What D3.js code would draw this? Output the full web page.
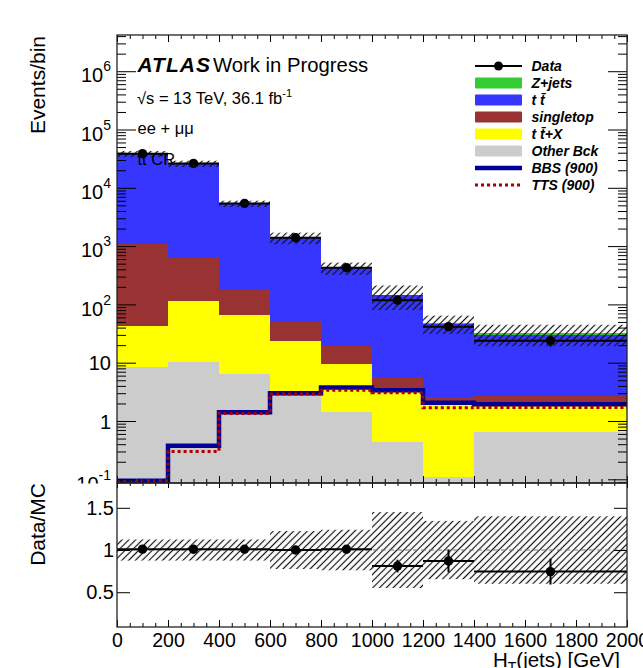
<!DOCTYPE html>
<html>
<head>
<meta charset="utf-8">
<script src="https://cdn.jsdelivr.net/npm/d3@7"></script>
<style>
  body { margin: 0; background: #fff; }
  svg { display: block; font-family: "Liberation Sans", Arial, Helvetica, sans-serif; }
  .axis path.domain { display: none; }
  .axis line { stroke: #000; stroke-width: 1; }
</style>
</head>
<body>
<svg id="chart" width="643" height="668"></svg>
<script>
// H_T(jets) bins [GeV]
var binEdges = [0, 200, 400, 600, 800, 1000, 1200, 1400, 2000];

// events / bin
var dataValues = [38500, 26200, 5400, 1390, 425, 118, 41.5, 23.8];
var dataErrors = [196, 162, 73, 37, 21, 11, 6.4, 4.9];
var zJets      = [50, 40, 12, 5, 2.5, 2.0, 1.2, 2.2];
var ttbar      = [36980, 25270, 5160, 1335, 399, 138, 43.9, 27.1];
var singleTop  = [1027, 524, 110, 26.6, 10.0, 2.3, 0.57, 0.8];
var ttX        = [34.7, 105.7, 60.0, 20.7, 8.06, 2.96, 1.92, 1.24];
var otherBck   = [8.3, 10.3, 6.4, 3.1, 1.44, 0.44, 0.111, 0.64];
var bbs900     = [0.094, 0.376, 1.41, 2.98, 3.76, 3.38, 2.06, 1.93];
var tts900     = [0.094, 0.30, 1.35, 2.91, 3.38, 3.05, 1.69, 1.71];
// relative MC uncertainty (hatched)
var mcUncert   = [0.125, 0.125, 0.125, 0.225, 0.24, 0.45, 0.345, 0.40];

var xTicks      = [0, 200, 400, 600, 800, 1000, 1200, 1400, 1600, 1800, 2000];
var mainYTicks  = [0.1, 1, 10, 100, 1000, 10000, 100000, 1000000];
var ratioYTicks = [0.5, 1, 1.5];

var legendLabels = ['Data', 'Z+jets', 't t\u0304', 'singletop', 't t\u0304+X', 'Other Bck', 'BBS (900)', 'TTS (900)'];

var colors = {
  zJets: '#33cc33', ttbar: '#3636ff', singleTop: '#993333',
  ttX: '#ffff00', other: '#cccccc', bbs: '#000099', tts: '#aa0000'
};

var svg = d3.select('#chart');
var W = 643, H = 668;
var left = 117, right = 627, mainTop = 35, mainBottom = 483, ratioBottom = 627;

var x = d3.scaleLinear().domain([0, 2000]).range([left, right]);
var y = d3.scaleLog().domain([0.0864, 4.18e6]).range([mainBottom, mainTop]).clamp(true);
var yr = d3.scaleLinear().domain([0.088, 1.794]).range([ratioBottom, mainBottom]);

var defs = svg.append('defs');
var pat = defs.append('pattern').attr('id', 'hatch')
  .attr('patternUnits', 'userSpaceOnUse')
  .attr('width', 4.8).attr('height', 4.8)
  .attr('patternTransform', 'rotate(45)');
pat.append('line').attr('x1', 2.4).attr('y1', 0).attr('x2', 2.4).attr('y2', 4.8)
  .attr('stroke', '#111').attr('stroke-width', 1.2);

defs.append('clipPath').attr('id', 'clipMain').append('rect')
  .attr('x', left).attr('y', mainTop).attr('width', right - left).attr('height', mainBottom - mainTop);
defs.append('clipPath').attr('id', 'clipRatio').append('rect')
  .attr('x', left).attr('y', mainBottom).attr('width', right - left).attr('height', ratioBottom - mainBottom);

// rows per bin for the stack
var rows = dataValues.map(function(v, i) {
  return {
    x0: binEdges[i], x1: binEdges[i + 1],
    other: otherBck[i], ttX: ttX[i], singleTop: singleTop[i], ttbar: ttbar[i], zJets: zJets[i],
    data: v, err: dataErrors[i], unc: mcUncert[i]
  };
});
var stackKeys = ['other', 'ttX', 'singleTop', 'ttbar', 'zJets'];
var stacked = d3.stack().keys(stackKeys)(rows);
rows.forEach(function(r) { r.mc = d3.sum(stackKeys, function(k) { return r[k]; }); });

// ---------- main pad ----------
var gMain = svg.append('g').attr('clip-path', 'url(#clipMain)');

gMain.selectAll('g.layer').data(stacked).join('g')
  .attr('class', 'layer')
  .attr('fill', function(d) { return colors[d.key]; })
  .selectAll('rect').data(function(d) { return d; }).join('rect')
  .attr('shape-rendering', 'crispEdges')
  .attr('x', function(d) { return x(d.data.x0); })
  .attr('width', function(d) { return x(d.data.x1) - x(d.data.x0); })
  .attr('y', function(d) { return y(d[1]); })
  .attr('height', function(d) { return Math.max(0, y(d[0]) - y(d[1])); });

gMain.selectAll('rect.unc').data(rows).join('rect')
  .attr('class', 'unc')
  .attr('fill', 'url(#hatch)')
  .attr('x', function(d) { return x(d.x0); })
  .attr('width', function(d) { return x(d.x1) - x(d.x0); })
  .attr('y', function(d) { return y(d.mc * (1 + d.unc)); })
  .attr('height', function(d) { return y(d.mc * (1 - d.unc)) - y(d.mc * (1 + d.unc)); });

function stepPoints(vals) {
  var pts = vals.map(function(v, i) { return [binEdges[i], v]; });
  pts.push([binEdges[binEdges.length - 1], vals[vals.length - 1]]);
  return pts;
}
var step = d3.line().curve(d3.curveStepAfter)
  .x(function(d) { return x(d[0]); })
  .y(function(d) { return y(d[1]); });

gMain.append('path').datum(stepPoints(bbs900))
  .attr('d', step).attr('fill', 'none')
  .attr('stroke', colors.bbs).attr('stroke-width', 4.5);
gMain.append('path').datum(stepPoints(tts900))
  .attr('d', step).attr('fill', 'none')
  .attr('stroke', colors.tts).attr('stroke-width', 3).attr('stroke-dasharray', '3,3');

var gData = gMain.append('g');
gData.selectAll('line.h').data(rows).join('line')
  .attr('x1', function(d) { return x(d.x0); }).attr('x2', function(d) { return x(d.x1); })
  .attr('y1', function(d) { return y(d.data); }).attr('y2', function(d) { return y(d.data); })
  .attr('stroke', '#000').attr('stroke-width', 2);
gData.selectAll('line.v').data(rows).join('line')
  .attr('x1', function(d) { return x((d.x0 + d.x1) / 2); }).attr('x2', function(d) { return x((d.x0 + d.x1) / 2); })
  .attr('y1', function(d) { return y(d.data - d.err); }).attr('y2', function(d) { return y(d.data + d.err); })
  .attr('stroke', '#000').attr('stroke-width', 2);
gData.selectAll('circle').data(rows).join('circle')
  .attr('cx', function(d) { return x((d.x0 + d.x1) / 2); })
  .attr('cy', function(d) { return y(d.data); })
  .attr('r', 4.7).attr('fill', '#000');

// main axes
var logMinor = [];
for (var e = -2; e <= 6; e++) {
  for (var k = 2; k <= 9; k++) {
    var v = k * Math.pow(10, e);
    if (v > y.domain()[0] && v < y.domain()[1]) logMinor.push(v);
  }
}
var xMinor = d3.range(0, 2001, 50).filter(function(d) { return d % 200 !== 0; });

function styleAxis(g) {
  g.attr('font-family', null).attr('font-size', 20).attr('class', 'axis');
  g.selectAll('text').attr('fill', '#000');
}

var yLeft = svg.append('g').attr('transform', 'translate(' + left + ',0)')
  .call(d3.axisLeft(y).tickValues(mainYTicks).tickSizeInner(-19).tickSizeOuter(0).tickPadding(6)
    .tickFormat(function() { return ''; }))
  .call(styleAxis);
yLeft.selectAll('.tick text').each(function(d) {
  var t = d3.select(this);
  var p = Math.round(Math.log10(d));
  if (p === 0 || p === 1) {
    t.text(String(Math.round(d))).attr('dy', '0.36em');
  } else {
    t.text('10').attr('dy', '0.535em');
    t.append('tspan').attr('font-size', 14).attr('dy', -11).text(p);
  }
});
svg.append('g').attr('transform', 'translate(' + left + ',0)')
  .call(d3.axisLeft(y).tickValues(logMinor).tickSizeInner(-9).tickSizeOuter(0).tickFormat(''))
  .call(styleAxis);
svg.append('g').attr('transform', 'translate(' + right + ',0)')
  .call(d3.axisRight(y).tickValues(mainYTicks).tickSizeInner(-19).tickSizeOuter(0).tickFormat(''))
  .call(styleAxis);
svg.append('g').attr('transform', 'translate(' + right + ',0)')
  .call(d3.axisRight(y).tickValues(logMinor).tickSizeInner(-9).tickSizeOuter(0).tickFormat(''))
  .call(styleAxis);
[[mainTop, d3.axisTop], [mainBottom, d3.axisBottom]].forEach(function(a) {
  svg.append('g').attr('transform', 'translate(0,' + a[0] + ')')
    .call(a[1](x).tickValues(xTicks).tickSizeInner(-7).tickSizeOuter(0).tickFormat(''))
    .call(styleAxis);
  svg.append('g').attr('transform', 'translate(0,' + a[0] + ')')
    .call(a[1](x).tickValues(xMinor).tickSizeInner(-4).tickSizeOuter(0).tickFormat(''))
    .call(styleAxis);
});

// texts
var lbl = svg.append('g');
lbl.append('text').attr('x', 137.5).attr('y', 72).attr('font-size', 21).attr('letter-spacing', 1)
  .attr('font-weight', 'bold').attr('font-style', 'italic').text('ATLAS');
lbl.append('text').attr('x', 213).attr('y', 72).attr('font-size', 20.3).text('Work in Progress');
var sq = lbl.append('text').attr('x', 137).attr('y', 104).attr('font-size', 16.5).text('\u221As = 13 TeV, 36.1 fb');
sq.append('tspan').attr('font-size', 11).attr('dy', -7).text('-1');
lbl.append('text').attr('x', 137.5).attr('y', 134).attr('font-size', 16.5).text('ee + \u03bc\u03bc');
lbl.append('text').attr('x', 137.5).attr('y', 165).attr('font-size', 16.5).text('tt\u0304 CR');

// legend
var legKinds = ['data', 'box', 'box', 'box', 'box', 'box', 'line', 'dotted'];
var legColors = ['#000', colors.zJets, colors.ttbar, colors.singleTop, colors.ttX, colors.other, colors.bbs, colors.tts];
var leg = svg.append('g').selectAll('g').data(legendLabels).join('g')
  .attr('transform', function(d, i) { return 'translate(0,' + (66 + 17 * i) + ')'; });
leg.each(function(d, i) {
  var g = d3.select(this);
  var kind = legKinds[i];
  if (kind === 'box') {
    g.append('rect').attr('x', 475).attr('y', -5.5).attr('width', 47).attr('height', 11)
      .attr('rx', 1).attr('fill', legColors[i]);
  } else if (kind === 'data') {
    g.append('line').attr('x1', 475).attr('x2', 522).attr('stroke', '#000').attr('stroke-width', 2);
    g.append('circle').attr('cx', 498.5).attr('r', 4.5).attr('fill', '#000');
  } else {
    g.append('line').attr('x1', 475).attr('x2', 522).attr('stroke', legColors[i])
      .attr('stroke-width', kind === 'line' ? 4.5 : 3)
      .attr('stroke-dasharray', kind === 'dotted' ? '3,3' : null);
  }
  g.append('text').attr('x', 531.5).attr('y', 5).attr('font-size', 14)
    .attr('font-weight', 'bold').attr('font-style', 'italic').text(d);
});

svg.append('text').attr('transform', 'translate(45,36) rotate(-90)')
  .attr('text-anchor', 'end').attr('font-size', 21).text('Events/bin');

// ---------- ratio pad ----------
svg.append('rect').attr('x', 0).attr('y', mainBottom + 0.5).attr('width', W).attr('height', H - mainBottom)
  .attr('fill', '#fff');

var gRatio = svg.append('g').attr('clip-path', 'url(#clipRatio)');
gRatio.selectAll('rect.unc').data(rows).join('rect')
  .attr('fill', 'url(#hatch)')
  .attr('x', function(d) { return x(d.x0); })
  .attr('width', function(d) { return x(d.x1) - x(d.x0); })
  .attr('y', function(d) { return yr(1 + d.unc); })
  .attr('height', function(d) { return yr(1 - d.unc) - yr(1 + d.unc); });
gRatio.append('line').attr('x1', left).attr('x2', right).attr('y1', yr(1)).attr('y2', yr(1))
  .attr('stroke', '#777').attr('stroke-width', 1).attr('stroke-dasharray', '5,3');
gRatio.selectAll('line.h').data(rows).join('line')
  .attr('x1', function(d) { return x(d.x0); }).attr('x2', function(d) { return x(d.x1); })
  .attr('y1', function(d) { return yr(d.data / d.mc); }).attr('y2', function(d) { return yr(d.data / d.mc); })
  .attr('stroke', '#000').attr('stroke-width', 2);
gRatio.selectAll('line.v').data(rows).join('line')
  .attr('x1', function(d) { return x((d.x0 + d.x1) / 2); }).attr('x2', function(d) { return x((d.x0 + d.x1) / 2); })
  .attr('y1', function(d) { return yr((d.data - d.err) / d.mc); })
  .attr('y2', function(d) { return yr((d.data + d.err) / d.mc); })
  .attr('stroke', '#000').attr('stroke-width', 2);
gRatio.selectAll('circle').data(rows).join('circle')
  .attr('cx', function(d) { return x((d.x0 + d.x1) / 2); })
  .attr('cy', function(d) { return yr(d.data / d.mc); })
  .attr('r', 4.7).attr('fill', '#000');

svg.append('g').attr('transform', 'translate(' + left + ',0)')
  .call(d3.axisLeft(yr).tickValues(ratioYTicks).tickSizeInner(-13).tickSizeOuter(0).tickPadding(3)
    .tickFormat(function(d) { return String(d); }))
  .call(styleAxis);
svg.append('g').attr('transform', 'translate(' + right + ',0)')
  .call(d3.axisRight(yr).tickValues(ratioYTicks).tickSizeInner(-13).tickSizeOuter(0).tickFormat(''))
  .call(styleAxis);
svg.append('g').attr('transform', 'translate(0,' + ratioBottom + ')')
  .call(d3.axisBottom(x).tickValues(xTicks).tickSizeInner(-7).tickSizeOuter(0).tickPadding(6)
    .tickFormat(d3.format('d')))
  .call(styleAxis)
  .attr('font-size', 19.5);
svg.append('g').attr('transform', 'translate(0,' + ratioBottom + ')')
  .call(d3.axisBottom(x).tickValues(xMinor).tickSizeInner(-4).tickSizeOuter(0).tickFormat(''))
  .call(styleAxis);
svg.append('g').attr('transform', 'translate(0,' + mainBottom + ')')
  .call(d3.axisTop(x).tickValues(xTicks).tickSizeInner(-5).tickSizeOuter(0).tickFormat(''))
  .call(styleAxis);
svg.append('g').attr('transform', 'translate(0,' + mainBottom + ')')
  .call(d3.axisTop(x).tickValues(xMinor).tickSizeInner(-3).tickSizeOuter(0).tickFormat(''))
  .call(styleAxis);

svg.append('text').attr('transform', 'translate(45,483) rotate(-90)')
  .attr('text-anchor', 'end').attr('font-size', 21).text('Data/MC');
var xt = svg.append('text').attr('x', 620).attr('y', 667).attr('text-anchor', 'end').attr('font-size', 20.5);
xt.append('tspan').text('H');
xt.append('tspan').attr('font-size', 14).attr('dy', 5).text('T');
xt.append('tspan').attr('dy', -5).text('(jets) [GeV]');

// frames
[[mainTop, mainBottom], [mainBottom, ratioBottom]].forEach(function(p) {
  svg.append('rect').attr('x', left).attr('y', p[0]).attr('width', right - left).attr('height', p[1] - p[0])
    .attr('fill', 'none').attr('stroke', '#222').attr('stroke-width', 1.3);
});
</script>
</body>
</html>
